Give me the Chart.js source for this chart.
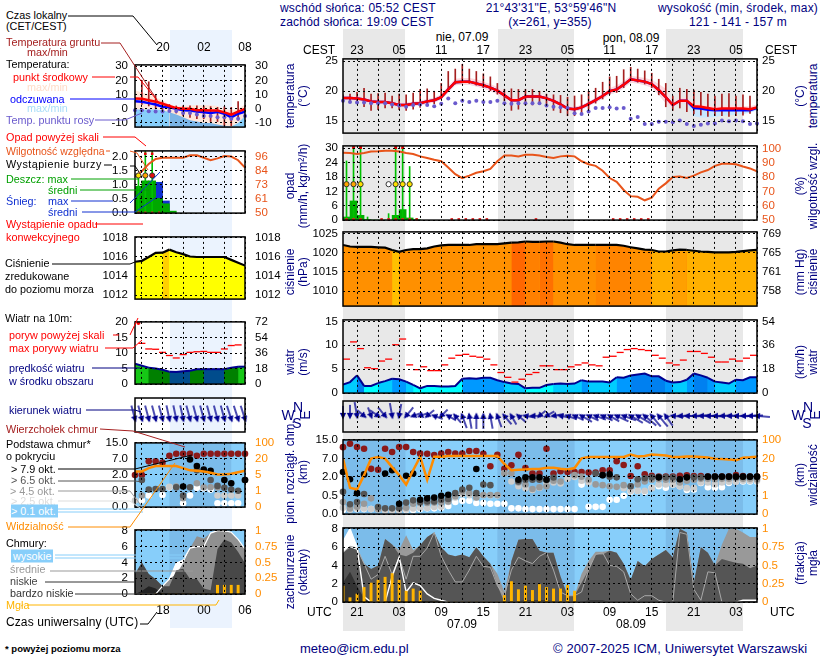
<!DOCTYPE html>
<html>
<head>
<meta charset="utf-8">
<style>
html,body{margin:0;padding:0;background:#fff;width:820px;height:660px;overflow:hidden}
#page{position:relative;width:820px;height:660px;overflow:hidden;font-family:"Liberation Sans",Arial,sans-serif;font-size:12px}
canvas{position:absolute}
.t{position:absolute;white-space:nowrap;line-height:13px}
.band{position:absolute}
svg{position:absolute;left:0;top:0}
</style>
<script src="https://cdn.jsdelivr.net/npm/chart.js@4"></script>
</head>
<body>
<div id="page"></div>
<script>
// ---- hourly data, main meteogram (0 = 19 UTC 06.09, 59 = 06 UTC 09.09)
var tempMain = [18.85,18.85,18.8,18.6,18.3,18.2,18.2,18,17.7,17.7,17.9,18,18.3,18.5,19,20.3,21.5,21.6,21.6,21.3,21,20.6,20.1,19.3,18.5,18.5,19.1,19.1,19.1,18.8,18.4,17.8,17.1,17,17.3,17.9,18.5,19.2,20,20.3,21.1,22,21.8,21.6,21.2,20.2,19,17.7,18.4,18.4,17.5,17.4,17.2,17,17.1,17.1,17.1,17.1,17,17.3];
var tempHi = [19.2,19.2,19.2,19,18.7,18.6,18.6,18.4,18.1,18.1,18.3,18.4,18.7,18.9,19.5,20.9,22.1,22.2,22.2,22,21.6,21.2,20.7,20,18.9,18.9,19.5,19.5,19.5,19.2,18.8,18.2,17.5,17.4,17.7,18.3,18.9,19.6,20.5,21,21.7,22.6,22.4,22.2,21.9,21.2,20.4,18.2,18.9,18.9,17.9,17.8,17.6,17.4,17.6,17.6,17.6,17.5,17.5,17.8];
var tempLo = [18.5,18.5,18.4,18.2,17.9,17.8,17.8,17.6,17.3,17.3,17.5,17.6,17.9,18.1,18.6,19.8,21,21.1,21.1,20.8,20.5,20,19.5,18.8,18.1,18.1,18.7,18.7,18.7,18.4,18,17.4,16.7,16.6,16.9,17.5,18.1,18.7,19.5,19.8,20.5,21.4,21.3,21,20.6,19.4,18,17.3,18,18,17,16.9,16.8,16.7,16.8,16.8,16.8,16.8,16.7,17];
var appTemp = [18.85,18.85,18.8,18.6,18.3,18.2,18.2,18,17.7,17.7,17.9,18,18.3,18.5,19,20.3,21.5,21.6,21.6,21.3,21,20.6,20.1,19.3,18.5,18.5,19.1,19.1,19.1,18.8,18.4,17.8,17.1,17,17.3,17.9,18.5,19.2,20,20.3,21.1,22,21.8,21.6,21.2,20.2,19,17.7,18.4,18.4,17.2,17.1,16.9,16.8,16.8,16.8,16.8,16.8,16.8,17.2];
var appLo = [18.5,18.5,18.4,18.2,17.9,17.8,17.8,17.6,17.3,17.3,17.5,17.6,17.9,18.1,18.6,19.8,21,21.1,21.1,20.8,20.5,20,19.5,18.8,18.1,18.1,18.7,18.7,18.7,18.4,18,17.4,16.7,16.6,16.9,17.5,18.1,18.7,19.5,19.8,20.5,21.4,21.3,21,20.6,19.4,18,17.3,18,18,15.8,15.6,15.6,15.7,15.9,16,16.1,16.2,16.4,16.8];
var groundHi = [19.4,19.5,19.8,20.5,19.5,19.6,19.7,19.2,19.5,19.4,19.7,20.3,20.4,20,21.3,23.3,23.7,24.5,23.7,23.3,22.9,22.4,21.3,20.3,20.4,20.3,20.3,20.3,20,19.5,19.4,19.3,19,19.2,19.4,20,20.5,21.5,22.4,22.5,23.6,24,23.7,23.4,23,22,21.3,19.2,20.5,20.3,20.2,19.8,19.5,19.2,19.5,19.6,19.2,19.4,19.2,17.6];
var groundLo = [18.3,18.2,18,17.4,16.8,16.9,17.2,17.2,16.9,16.8,17,17.3,17.6,17.9,18.7,20.2,21.2,21.4,21.3,21,20.6,20.1,19.5,18.4,16.8,17,17.7,17.7,17.8,17.4,16.8,16.4,15.9,15.9,16.4,17,18,18.7,19.5,19.8,20.6,21.8,21.5,21.2,20.6,19.4,17.4,16.8,17.2,16.6,16.2,16,15.8,15.9,15.9,15.8,15.9,16,16.3,17];
var dewMain = [18.4,18.2,18.1,18.1,18,18,18,17.8,17.6,17.4,17.7,17.8,17.7,17.5,17.9,18.8,18,18.4,18.2,18.4,18.2,18.2,18.4,18,17.9,18,18,18,18,17.6,17.4,17.3,17.2,16.3,16.2,16.6,17.2,17.2,17.3,17.1,17.2,15.4,15.7,14.5,14.5,14.9,14.9,14.8,15.1,14.5,14.2,14.4,14.6,14.6,15.1,15,15.1,15,14.5,14.6];

var humMain = [97,96.7,96,96.7,97.8,98,98.4,98.4,97.8,96.7,96,94.4,93.3,92,91,86.7,82,79.3,81,83,84,85.6,91,95,95,94.4,95.6,95.6,95,94,93.3,94.4,94.9,94.4,91,88.9,87.8,84.4,79.3,76.7,71,66.7,66.2,63.8,65.6,71.8,75.6,80,80.4,79.3,81,83.3,84.9,87.8,89.3,89.3,88.9,87.3,86,84];
var rainMeanMain = [1.3,8,2,0.2,0,0,0,2,4.4,0.9,0.1];
var rainMaxMain = [24.7,31,31,1.3,0,0,2.7,31,31,22.4,0.7];
var stormHours = [0,1,2,6,7,8,9];
var stormColors = ["#ffa500","#ffa500","#ffe000","#ffffff","#ffe000","#ffe000","#ffe000"];
var overScaleHours = [1,2,7,8];
var convectiveHours = [0,1,2,5,6,7,8,9,10,15,16,17,18,19,20,27,38,39,40,41,42,43];

var pressMain = [1022,1021.6,1021.5,1021.5,1021.5,1021.4,1021.3,1020.7,1020.2,1020.7,1020.9,1020.9,1021.1,1021.6,1021.9,1022,1022,1022,1022,1022.2,1022.2,1022.2,1022.2,1022.4,1022.6,1022.7,1022.9,1022.8,1022.8,1022.9,1022.9,1022.6,1022.2,1022,1022,1022,1022,1022,1022,1022,1021.8,1021.4,1021.1,1020.8,1020.7,1020.3,1020.3,1020.6,1020.8,1020.7,1020.5,1020.3,1020.2,1020.1,1020.1,1020.1,1020.2,1020.4,1020.6,1020.7];
var pressStrips = [[7,8,"#ffc000"],[24,26,"#ff6600"],[26,28,"#ff8000"],[28,30,"#ff7000"],[36,41,"#ff8400"],[44,47,"#ffae00"],[47,49,"#ffa000"],[49,59,"#ffb000"]];

var windMain = [1.8,2.3,3.7,1.5,1.5,2.1,2.5,3,2.9,2.4,1.7,1,1.5,1.5,1.4,1.4,1.5,3,3.1,3,3.2,3.2,2.7,2.3,2,1.9,1,1.1,1.1,1.7,1.9,2,1.9,2,2.7,2.4,2.4,2.4,2.2,3.3,3.2,3.7,3.9,4.1,3.5,3.5,2.6,2.2,2.3,2.8,4.1,3.7,3.2,2.4,2.2,2,2.8,2.7,3.3,3.3];
var gustMain = [7.1,10.7,9.3,5.3,5.1,6.7,7.1,10.1,11.3,5.9,4.9,5.5,4.7,4.7,5.9,7.3,7.9,8.1,7.7,7.5,7.1,5.9,4.3,3.3,2.3,2.9,3.9,4.3,5.7,5.7,4.9,4.9,5.5,5.9,6.3,5.9,5.7,7.5,7.7,8.5,9.1,9.3,9.1,8.9,7.9,7.3,6.3,5.9,6.9,8.7,8.7,8.3,7.5,6.5,6.5,7.1,6.7,7.3,7.9];
var windDirMain = [180,180,170,130,160,125,140,170,190,220,250,250,230,290,225,300,320,340,350,0,0,350,340,320,330,310,280,270,230,240,260,280,290,295,300,295,290,295,300,295,290,300,300,310,320,320,325,275,270,272,268,270,272,270,268,270,272,270,268,275];

// vertical position on the 0/0.5/2/7/15 km axis (tick number 0..4)
var cloudTop = [3.61,3.79,3.62,3.52,2.44,2.39,3.52,3.35,3.62,3.62,3.35,3.26,3.25,3.18,3.26,3.35,3.26,3.26,3.4,3.4,3.25,2.58,3.2,2.44,2.63,3.2,2.48,2.19,2.19,3.52,2.19,2.31,2.27,2.27,2.27,2.24,2.24,2.36,2.36,2.85,2.65,2.05,2.58,2.15,2.07,2.02,2.02,2.02,2.07,2.09,2.05,2.05,2.02,2.02,2.02,2.02,2.1,2.05,2.02,2.02];
var cloud79 = [2.27,1.88,1.13,2.14,null,null,2.19,2.36,0.56,2.07,2.19,0.77,0.85,0.89,0.99,1.04,null,null,null,2.43,null,null,null,null,null,1.85,1.98,1.98,1.98,1.85,null,null,null,null,null,null,null,2.1,2.15,null,null,null,null,null,null,1.98,null,null,1.88,1.98,null,null,2.02,2.02,2.02,2.02,2.02,2.02,2.02,2.02];
var cloud65 = [1.2,0.53,0.65,1.08,null,0.38,0.31,0.31,0.31,0.62,0.74,0.65,0.68,0.68,0.77,0.82,1.13,1.33,1.42,1.13,1.59,1.56,null,null,null,1.76,1.85,1.85,1.85,1.85,1.97,null,null,null,null,null,2.19,2.1,2.02,1.98,null,1.5,1.88,1.93,1.98,1.98,1.98,1.98,1.88,1.98,1.98,1.98,2,2,2,2,2,2,2,2];
var cloud45 = [0.65,0.3,0.39,0.56,0.85,0.27,null,null,null,0.34,0.56,0.6,0.6,0.62,0.62,0.68,0.96,1.2,1.13,0.9,1.03,1.03,1.03,2.2,2.2,1.7,1.6,1.35,1.45,1.5,1.8,1.76,null,2.1,2.02,1.85,1.6,1.56,1.5,1.47,1.56,1.5,1.6,1.76,1.85,1.88,1.85,1.85,1.7,1.8,1.85,1.9,1.9,1.88,1.9,1.9,1.93,1.9,1.9,1.88];
var cloud25 = [0.34,0.24,0.3,0.3,0.27,0.25,0.2,0.2,0.2,0.25,0.3,0.33,0.33,0.38,0.4,0.65,0.9,1.07,1.02,0.9,1.02,1,1,2.2,1.76,1.5,1.4,1.3,1.42,1.68,1.7,1.65,1.9,2,1.8,1.7,null,null,null,null,1.4,1.25,1.25,1.25,1.4,1.6,1.6,1.6,1.5,1.4,1.4,1.7,1.7,1.6,1.7,1.75,1.75,1.8,1.8,1.8];
var cloud01 = [0.22,0.27,0.27,0.27,0.27,null,null,null,null,0.22,0.22,0.27,0.31,0.31,0.34,0.44,0.65,0.72,0.72,0.6,0.6,0.56,0.56,0.56,0.31,0.31,0.27,0.27,0.27,0.27,0.27,0.27,0.27,0.27,1.59,0.39,0.39,0.39,0.77,0.77,0.99,1.21,1.25,1.2,1.42,1.5,1.42,1.59,1.5,1.3,1.33,1.68,1.45,1.42,1.45,1.68,1.76,1.76,1.76,1.76];
var visMain = [2.99,1.42,1.33,2.1,2.99,3.08,2.99,2.53,2.1,1.59,2.36,3.09,1.85,3.09,3.09,3.13,3.13,3.13,3.13,3.13,3.13,3.13,3.13,2.7,2.36,2.39,2.41,2.43,2.43,2.5,2.5,2.44,2.41,2.48,3.01,3.08,3.08,3.08,3.08,3.08,3.08,3.21,3.11,3.13,3.21,3.19,3.16,3.08,3.08,3.1,3.11,3.08,3.05,2.99,2.97,2.95,2.91,3.04,3.06,3.09];

var veryLowMain = [2.1,3.3,1.76,0.4,0,0,0,0,0,0,0,0,0,0,0,0,0,0,0,0,0,0,0,0,0,0.1,0.2,0.2,0.2,0.2,0.1,0,0,0,0,0.2,0.2,0.2,0,0,0,0,0,0,0,0,0,0,0,0,0,0,0,0,0,0,0,0,0,0];
var lowMain = [5.4,6,5.7,4.2,3.6,4,6.9,6.3,5.2,5,5.4,6.2,7.1,7.6,6,5.2,5,5.2,4.9,6,5,4.2,1.8,0,4.5,6.8,6.9,6.9,5.6,5.4,5.4,2.8,0.7,0.7,2.1,3.5,5.2,5.2,5.6,5.4,4.2,2.4,4.5,3.9,4.7,5.2,5.7,4.9,8,7.6,2.1,6,5.4,4,4.7,4.5,4.3,4.2,3.7,4];
var midFillMain = [5.4,6,5.7,4.2,3.6,4,6.9,6.3,5.7,7.3,5.7,6.2,7.1,7.6,6,5.2,5,5.2,4.9,6,5,4.2,3.1,1.1,4.5,6.8,6.9,6.9,5.6,5.4,5.4,2.8,0.7,0.7,3.1,4.5,5.5,5.5,5.6,5.4,4.2,2.4,4.5,3.9,4.7,5.2,5.7,4.9,8,7.6,2.1,6,5.4,4,6.3,8,8,7.6,7.1,7.1];
var midLineMain = [5.4,6.1,5.9,4.2,2.5,3,5,3,4.9,2.5,5,5,5.9,7.6,5,3.5,2.2,2.2,3.5,5,3.9,3.8,1.8,0.7,3.5,4.9,4.5,4.2,5,5.4,3.5,1.1,0.7,0.7,1.1,3.5,5.2,5.4,4,3.9,3.3,0.9,0.2,0.7,0.7,0.2,0,0,7.6,7.4,1.4,0.2,3.3,3.2,0,0,0,0,0,0];
var highMain = [6.6,8,6,0.6,0,0,0,2.8,4.9,1.1,2.1,1.8,0.9,0.4,0.2,0,0,0,0,0,0,0,0,0,0,0,0,0,0,0,0,0,0,0,0,0,0,0,0,0,0,0,0,0,0,0,0,0,0,0,0,0,0,0,0,0,0,0.2,0.2,0.2];
var fogMain = [0.22,0.06,0.11,0.2,0.26,0.3,0.34,0.39,0.3,0.15,0.18,0.15,0,0,0,0,0,0,0,0,0,0,0,0.09,0.28,0.17,0.22,0.16,0.24,0.2,0.18,0.18,0.23,0.15];

// ---- small panels on the left (0 = 14 UTC, 16 = 06 UTC)
var tempLeft = [7.3,7,6,5,3.5,2,0.5,0,0,-1,-1,-1.2,-1.2,-2.5,-4.2,-2,0];
var appLeft = [5.3,5,4,3,1.5,1,0,-1,-1.3,-2,-2.5,-3,-2.2,-3.5,-6,-3.5,-2];
var bandTopLeft = [13,11.5,10,8,6,3,2,2,2.5,2.5,2.5,2.5,2,0,-1,0,3];
var bandMidLeft = [-0.5,-0.5,-0.5,-0.5,-1,-2.5,-4,-6,-8,-9,-10,-10,-11,-12,-12.5,-10,-5];
var groundHiLeft = [8,20,19,10,5,3,2,2,2,2,2,1.5,1,1.5,1,5,2];
var groundLoLeft = [5,3,2,0,-1,-2,-3,-5,-6,-7,-7,-9,-9,-12,-12,-8,-3];
var dewLeft = [-1,-1,-1.8,-2,-2,-1.5,-1.5,-3,-3,-4,-5,-5,-6,-6,-7,-7,-5];

var humLeft = [80,84,90,94,95,95,95,95,97,97,95,93,94.5,96.4,96,93,87];
var rainMeanLeft = [0.95,1.14,1.14,0.52,0.33,0.07];
var snowMeanLeft = [0,0,0,1.09,0.43,0];
var rainMaxLeft = [1.3,2.3,2.3];
var stormColorsLeft = ["#ffe000","#ffa500","#e01010"];
var convectiveLeft = [0,1,2,3];

var pressLeft = [1015.5,1015.6,1016,1016.43,1016.45,1016.77,1016.5,1016.3,1016.05,1016,1016,1016,1016,1016,1015.7,1015.4,1015.1];

var windLeft = [6.55,5.9,5.3,5,4.6,4,3.9,4.1,4.3,4.8,4.8,4.8,4.8,4.8,5.3,5.6,5.6];
var gustLeft = [13.1,11.3,11.2,10.2,9.2,8.4,9.5,10.2,10.4,10.5,10.2,10.2,11.3,12.4,12.6];
var windColorsLeft = ["#16c716","#16c716","#008000","#008000","#008000","#004c8c","#004c8c","#004c8c","#008000","#008000","#004c8c","#004c8c","#004c8c","#008000","#008000","#16c716","#16c716"];
var windDirLeft = [165,165,165,165,165,168,168,168,165,165,165,165,165,165,162,162,162];

var cloudTopLeft = [2,2,2.85,2.85,2.77,3.2,3.32,3.32,3.32,3.2,3.32,3.32,3.32,3.32,3.32,3.32,3.32];
var cloud79Left = [null,null,null,null,null,null,null,1.28,2.97,2.56,2.34,2.26,null,1.69,1.49,null,1.69];
var cloud65Left = [null,1.69,1.09,1.13,1.13,null,1.23,0.72,1.23,2.29,null,1.69,1.32,1.2,1.09,1.02,1.69];
var cloud45Left = [null,0.72,null,null,null,null,1.28,0.55,null,1.49,1.23,1.23,1.23,null,null,null,null];
var cloud25Left = [0.41,null,null,null,null,1.26,1.26,null,null,null,null,null,0.72,0.72,0.72,0.72,null];
var cloud01Left = [null,0.41,0.72,null,0.75,1.23,null,0.24,0.72,1.2,1.18,1.09,0.24,0.24,0.24,0.24,null];
var visLeft = [2.22,2.22,2.43,2.56,2.56,2.56,2.56,2.43,2.29,2.26,2.22,2.14,2.03,2.03,2.08,2.17,2.26];

var veryLowLeft = [0,0.4,1,0.7,0,0,0,0,0,0,0,0,0,0,0,0,0];
var lowLeft = [2.55,4,2.55,1.86,1,1,3,3.2,1.9,1.9,0.7,0.5,5.7,6.9,6.5,5.3,3.9];
var midFillLeft = [2.55,4,2.55,1.86,1,1.9,2.55,3.9,5.8,7.3,7,7.7,8,7.9,7.8,6.9,5.7];
var highLeft = [0,0,0,0,1,1.9,3.9,4.3,5.8,6,6,7.7,8,8,7.8,6.9,5.7];
var fogLeft = [0,0,0,0,0,0,0,0,0,0,0,0,0.14,0.14,0.14,0.14];

// ---- ticks
var tickHoursMain = [2,5,8,11,14,17,20,23,26,29,32,35,38,41,44,47,50,53,56,59];
var tickHoursLeft = [1,4,7,10,13,16];
var cloudAxisKm = ["0.0","0.5","2.0","7.0","15.0"];
var visAxisKm = ["0","1","5","20","100"];
var nightMain = [[0,8.9],[22,33],[46,57]];
var nightLeft = [[5,14]];

var DASH = [2,3];
var page = document.getElementById("page");

function xy(vals, off) {
  return vals.map(function (v, i) { return { x: i + (off || 0), y: v }; });
}
function pick(hours, y, off) {
  return hours.map(function (h) { return { x: h + (off || 0), y: y }; });
}
function lineDs(vals, color, w, extra) {
  return Object.assign({ type: "line", data: xy(vals), borderColor: color, borderWidth: w, pointRadius: 0, tension: 0 }, extra);
}
function dots(vals, color, r) {
  return { type: "line", data: xy(vals), showLine: false, pointRadius: r || 3.3, pointBackgroundColor: color, pointBorderWidth: 0, clip: false };
}
function area(vals, color, extra) {
  return Object.assign({ type: "line", data: xy(vals), borderWidth: 0, pointRadius: 0, tension: 0, fill: "start", backgroundColor: color }, extra);
}
function bars(data, color, w, extra) {
  return Object.assign({ type: "bar", data: data, backgroundColor: color, barThickness: w, grouped: false, borderWidth: 0 }, extra);
}

// frame and the panel background
function framePlugin(cfg) {
  return {
    id: "frame",
    beforeDatasetsDraw: function (chart) {
      if (!cfg.sky) return;
      var a = chart.chartArea, c = chart.ctx, sx = chart.scales.x;
      c.save();
      c.fillStyle = cfg.sky[0];
      c.fillRect(a.left, a.top, a.width, a.height);
      c.fillStyle = cfg.sky[1];
      cfg.night.forEach(function (n) {
        var l = sx.getPixelForValue(n[0]), r = sx.getPixelForValue(n[1]);
        c.fillRect(l, a.top, r - l, a.height);
      });
      c.restore();
    },
    afterDraw: function (chart) {
      var a = chart.chartArea, c = chart.ctx;
      c.save();
      c.strokeStyle = "#000";
      c.lineWidth = 1.5;
      c.strokeRect(a.left, a.top, a.width, a.height);
      c.restore();
    }
  };
}

function panel(cfg) {
  var b = cfg.box, pad = cfg.pad || 38;
  var cv = document.createElement("canvas");
  cv.width = b[2] + pad * 2;
  cv.height = b[3] + 20;
  cv.style.left = (b[0] - pad) + "px";
  cv.style.top = (b[1] - 10) + "px";
  page.appendChild(cv);
  var font = { family: "'Liberation Sans', Arial, sans-serif", size: 11.5 };
  new Chart(cv, {
    type: "line",
    data: { datasets: cfg.datasets },
    plugins: [framePlugin(cfg)],
    options: {
      responsive: false,
      animation: false,
      devicePixelRatio: 1,
      layout: { padding: { top: 10, bottom: 10, left: 0, right: 0 } },
      plugins: { legend: { display: false }, tooltip: { enabled: false } },
      scales: {
        x: {
          type: "linear", min: 0, max: cfg.xMax, offset: false,
          afterBuildTicks: function (s) { s.ticks = cfg.xTicks.map(function (v) { return { value: v }; }); },
          afterFit: function (s) { s.height = 0; },
          ticks: { display: false },
          grid: { color: "#000", lineWidth: 1, drawTicks: false, z: 1, offset: false },
          border: { dash: DASH, display: false }
        },
        y: {
          type: "linear", position: "left", min: cfg.yMin, max: cfg.yMax,
          afterBuildTicks: function (s) { s.ticks = cfg.lt.map(function (v) { return { value: v }; }); },
          afterFit: function (s) { s.width = pad; },
          ticks: {
            autoSkip: false, font: font, color: "#000", padding: cfg.ltPad || 5,
            callback: cfg.ltFmt || function (v) { return v; }
          },
          grid: { color: "#000", lineWidth: 1, drawTicks: false, z: 1 },
          border: { dash: DASH, display: false }
        },
        y2: {
          type: "linear", position: "right", min: cfg.rMin, max: cfg.rMax,
          afterBuildTicks: function (s) { s.ticks = cfg.rt.map(function (v) { return { value: v }; }); },
          afterFit: function (s) { s.width = pad; },
          ticks: {
            autoSkip: false, font: font, color: cfg.rColor || "#000", padding: cfg.rtPad || 5,
            callback: cfg.rtFmt || function (v) { return v; }
          },
          grid: { display: false, drawTicks: false },
          border: { display: false }
        }
      }
    }
  });
}

// arrow picture, head in the middle, pointing up, tail below
var arrowCache = {};
function arrowIcon(len) {
  len = Math.round(len);
  if (arrowCache[len]) return arrowCache[len];
  var c = document.createElement("canvas"), s = len * 2 + 8;
  c.width = s; c.height = s;
  var g = c.getContext("2d"), m = s / 2;
  g.strokeStyle = "#000090";
  g.fillStyle = "#000090";
  g.lineWidth = 1.4;
  g.beginPath(); g.moveTo(m, m); g.lineTo(m, m + len); g.stroke();
  g.beginPath(); g.moveTo(m, m - 3.5); g.lineTo(m - 3.2, m + 3); g.lineTo(m + 3.2, m + 3); g.closePath(); g.fill();
  arrowCache[len] = c;
  return c;
}
function windRow(dirs, speeds, row, fixedLen) {
  return {
    type: "line", showLine: false, clip: false,
    data: dirs.map(function (d, i) { return { x: i, y: row }; }),
    pointRadius: 6,
    pointStyle: dirs.map(function (d, i) { return arrowIcon(fixedLen || 5 + speeds[i] * 2.5); }),
    pointRotation: dirs
  };
}
function pressColor(ctx) {
  var i = ctx.p0DataIndex, col = "#ff9000";
  pressStrips.forEach(function (s) { if (i >= s[0] && i < s[1]) col = s[2]; });
  return col;
}
function windColor(ctx) {
  var v = windMain[ctx.p0DataIndex];
  if (v < 1.8) return "#00ffff";
  if (v < 2.6) return "#00ccff";
  if (v < 3.4) return "#0099ff";
  return "#0080f0";
}
function nightTint(ctx) {
  var i = ctx.p0DataIndex;
  return i >= 5 && i < 14 ? "#7ab4e6" : "#87cefa";
}
function round(v) { return Math.round(v); }
function floor(v) { return Math.floor(v); }
function cloudLeftFmt(v) { return cloudAxisKm[v]; }
function visFmt(v) { return visAxisKm[v]; }
function fixed1(v) { return v.toFixed(1); }

var SKY = ["#87cefa", "#7bbcea"];
var RED = "#ff0000", BLUE = "#0000ff", HUM = "#e8541a", ORANGE = "#ff8c00", DEW = "#6a5acd", GROUND = "#a52020", FOG = "#ffb400";

function mainBox(y, h) { return [343, y, 414, h]; }
function leftBox(y, h) { return [135, y, 110, h]; }
var mainX = { xMax: 59, xTicks: tickHoursMain };
var leftX = { xMax: 16, xTicks: tickHoursLeft, pad: 45, ltPad: 7, rtPad: 10 };

// ---- temperature
panel(Object.assign({
  box: mainBox(57, 78), yMin: 13, yMax: 25.4, lt: [15, 20, 25], rMin: 13, rMax: 25.4, rt: [15, 20, 25],
  datasets: [
    dots(dewMain, DEW, 2),
    lineDs(tempMain, RED, 2.5),
    lineDs(appTemp, BLUE, 2.5),
    bars(groundHi.map(function (v, i) { return { x: i, y: [groundLo[i], v] }; }), GROUND, 1),
    lineDs(tempHi, "rgba(0,0,0,0)", 0, { fill: "+1", backgroundColor: "#ffd8de" }),
    lineDs(tempLo, "rgba(0,0,0,0)", 0),
    lineDs(appTemp, "rgba(0,0,0,0)", 0, { fill: "+1", backgroundColor: "#c8e8ff" }),
    lineDs(appLo, "rgba(0,0,0,0)", 0)
  ]
}, mainX));
panel(Object.assign({
  box: leftBox(58, 76), yMin: -12.9, yMax: 30.9, lt: [-10, 0, 10, 20, 30], rMin: -12.9, rMax: 30.9, rt: [-10, 0, 10, 20, 30],
  datasets: [
    dots(dewLeft, DEW, 2),
    lineDs(tempLeft, RED, 2.5),
    lineDs(appLeft, BLUE, 2.5),
    bars(groundHiLeft.map(function (v, i) { return { x: i, y: [groundLoLeft[i], v] }; }), GROUND, 1),
    area(bandMidLeft, "#87cefa", { segment: { backgroundColor: nightTint } }),
    lineDs(bandTopLeft, "rgba(0,0,0,0)", 0, { fill: "start", backgroundColor: "#ffe6da" })
  ]
}, leftX));

// ---- precipitation and humidity
panel(Object.assign({
  box: mainBox(144, 78), yMin: 0, yMax: 31, lt: [0, 6, 12, 18, 24, 30], rMin: 50, rMax: 101.7, rt: [50, 60, 70, 80, 90, 100], rColor: HUM,
  datasets: [
    { type: "line", data: pick(overScaleHours, 30.3, 0.5), showLine: false, pointStyle: "rect", pointRadius: 2, pointBackgroundColor: "#e00000", pointBorderWidth: 0, clip: false },
    { type: "line", data: pick(stormHours, 15, 0.5), showLine: false, pointRadius: 2.6, pointBackgroundColor: stormColors, pointBorderColor: "#333", pointBorderWidth: 1 },
    { type: "line", data: pick(convectiveHours, 0.3, 0.5), showLine: false, pointStyle: "rect", pointRadius: 1.8, pointBackgroundColor: "#e02020", pointBorderWidth: 0, clip: false },
    lineDs(humMain, HUM, 2, { yAxisID: "y2" }),
    bars(xy(rainMaxMain, 0.5), "#00c000", 1),
    bars(xy(rainMeanMain, 0.5), "#00b000", 7)
  ]
}, mainX));
panel(Object.assign({
  box: leftBox(144, 76), yMin: 0, yMax: 2.2, lt: [0, 0.5, 1, 1.5, 2], ltFmt: fixed1, rMin: 50, rMax: 100.6, rt: [50, 61.5, 73, 84.5, 96], rtFmt: floor, rColor: HUM,
  datasets: [
    { type: "line", data: pick([1, 2], 2.1, 0.5), showLine: false, pointStyle: "rect", pointRadius: 1.8, pointBackgroundColor: "#e00000", pointBorderWidth: 0 },
    { type: "line", data: pick([0, 1, 2], 1.33, 0.5), showLine: false, pointRadius: 2.6, pointBackgroundColor: stormColorsLeft, pointBorderColor: "#333", pointBorderWidth: 1 },
    { type: "line", data: pick(convectiveLeft, 0.02, 0.5), showLine: false, pointStyle: "rect", pointRadius: 1.5, pointBackgroundColor: "#e02020", pointBorderWidth: 0, clip: false },
    lineDs(humLeft, HUM, 2, { yAxisID: "y2" }),
    bars(xy(rainMaxLeft, 0.5), "#00c000", 1),
    bars(xy(rainMeanLeft, 0.5), "#00a800", 7),
    bars(xy(snowMeanLeft, 0.5), "#1030d0", 7)
  ]
}, leftX));

// ---- pressure
panel(Object.assign({
  box: mainBox(230, 78), yMin: 1006.1, yMax: 1025.4, lt: [1010, 1015, 1020, 1025],
  rMin: 1006.1 * 0.75006, rMax: 1025.4 * 0.75006, rt: [757.6, 761.3, 765, 768.8], rtFmt: round,
  datasets: [
    lineDs(pressMain, "#000", 2.2, { fill: "start", backgroundColor: "#ff9000", segment: { backgroundColor: pressColor } }),
    area(pressMain, "#ff9000")
  ]
}, mainX));
panel(Object.assign({
  box: leftBox(230, 76), yMin: 1011.6, yMax: 1018.1, lt: [1012, 1014, 1016, 1018], rMin: 1011.6, rMax: 1018.1, rt: [1012, 1014, 1016, 1018],
  datasets: [
    lineDs(pressLeft, "#000", 2.2, { fill: "start", backgroundColor: "#ffff00", segment: { backgroundColor: function (c) { return c.p0DataIndex == 4 ? "#ffd000" : "#ffff00"; } } }),
    area(pressLeft, "#ffff00")
  ]
}, leftX));

// ---- wind
panel(Object.assign({
  box: mainBox(318, 77), yMin: 0, yMax: 15.3, lt: [0, 5, 10, 15], rMin: 0, rMax: 55.08, rt: [0, 18, 36, 54],
  datasets: [
    { type: "line", data: xy(gustMain, 0.5), showLine: false, pointStyle: "line", pointRadius: 3.5, pointBorderColor: RED, pointBorderWidth: 1.3 },
    lineDs(windMain, "#000090", 2, { fill: "start", backgroundColor: "#00ccff", segment: { backgroundColor: windColor } }),
    area(windMain, "#00ccff")
  ]
}, mainX));
panel(Object.assign({
  box: leftBox(315, 76), yMin: 0, yMax: 20, lt: [0, 5, 10, 15, 20], rMin: 0, rMax: 72, rt: [0, 18, 36, 54, 72],
  datasets: [
    { type: "line", data: xy(gustLeft, 1), showLine: false, pointStyle: "line", pointRadius: 3.5, pointBorderColor: RED, pointBorderWidth: 1.3 },
    { type: "line", data: pick([0], 19.6, 0.5), showLine: false, pointRadius: 1.8, pointBackgroundColor: RED, pointBorderWidth: 0 },
    lineDs(windLeft, "#000090", 2, { fill: "start", backgroundColor: "#008000", segment: { backgroundColor: function (c) { return windColorsLeft[c.p0DataIndex]; } } }),
    area(windLeft, "#008000")
  ]
}, leftX));

// ---- wind direction
panel(Object.assign({
  box: mainBox(401, 31), yMin: 0, yMax: 1, lt: [], rMin: 0, rMax: 1, rt: [],
  datasets: [windRow(windDirMain, windMain, 0.52)]
}, mainX));
panel(Object.assign({
  box: leftBox(398, 34), yMin: 0, yMax: 1, lt: [], rMin: 0, rMax: 1, rt: [],
  datasets: [windRow(windDirLeft, windLeft, 0.38, 14)]
}, leftX));

// ---- cloud base, top and visibility
panel(Object.assign({
  box: mainBox(438, 78), sky: SKY, night: nightMain, yMin: 0, yMax: 4, lt: [0, 1, 2, 3, 4], ltFmt: cloudLeftFmt, rMin: 0, rMax: 4, rt: [0, 1, 2, 3, 4], rtFmt: visFmt, rColor: ORANGE,
  datasets: [
    lineDs(visMain, ORANGE, 2.5),
    dots(cloud79, "#000"), dots(cloud65, "#555"), dots(cloud45, "#999"), dots(cloud25, "#ccc"), dots(cloud01, "#fff"),
    dots(cloudTop, "#8b1a1a")
  ]
}, mainX));
panel(Object.assign({
  box: leftBox(436, 78), sky: SKY, night: nightLeft, yMin: 0, yMax: 4, lt: [0, 1, 2, 3, 4], ltFmt: cloudLeftFmt, rMin: 0, rMax: 4, rt: [0, 1, 2, 3, 4], rtFmt: visFmt, rColor: ORANGE,
  datasets: [
    lineDs(visLeft, ORANGE, 2.5),
    dots(cloud79Left, "#000"), dots(cloud65Left, "#555"), dots(cloud45Left, "#999"), dots(cloud25Left, "#ccc"), dots(cloud01Left, "#fff"),
    dots(cloudTopLeft, "#8b1a1a")
  ]
}, leftX));

// ---- cloud cover and fog
panel(Object.assign({
  box: mainBox(526, 78), sky: SKY, night: nightMain, yMin: 0, yMax: 8.1, lt: [0, 2, 4, 6, 8], rMin: 0, rMax: 1.0125, rt: [0, 0.25, 0.5, 0.75, 1], rColor: ORANGE,
  datasets: [
    bars(xy(fogMain), FOG, 2.3, { yAxisID: "y2" }),
    lineDs(highMain, "#fff", 1.4),
    lineDs(midLineMain, "#a8a8a8", 1),
    area(veryLowMain, "#333"),
    area(lowMain, "#555"),
    area(midFillMain, "#999"),
    area(highMain, "#fff")
  ]
}, mainX));
panel(Object.assign({
  box: leftBox(523, 78), sky: SKY, night: nightLeft, yMin: 0, yMax: 8.1, lt: [0, 2, 4, 6, 8], rMin: 0, rMax: 1.0125, rt: [0, 0.25, 0.5, 0.75, 1], rColor: ORANGE,
  datasets: [
    bars(xy(fogLeft), FOG, 2.3, { yAxisID: "y2" }),
    lineDs(highLeft, "#fff", 1.2),
    area(veryLowLeft, "#222"),
    area(lowLeft, "#484848"),
    area(midFillLeft, "#909090"),
    area(highLeft, "#fff")
  ]
}, leftX));

// ---- day/night columns behind the canvases
function band(x, y, w, h, col) {
  var d = document.createElement("div");
  d.className = "band";
  d.style.cssText = "left:" + x + "px;top:" + y + "px;width:" + w + "px;height:" + h + "px;background:" + col;
  page.insertBefore(d, page.firstChild);
}
band(170, 30, 62, 598, "#ebf3fe");
band(343, 29, 62, 602, "#e8e8e8");
band(498, 29, 76, 602, "#e8e8e8");
band(666, 29, 77, 602, "#e8e8e8");

// ---- text
function txt(s, x, y, col, o) {
  o = o || {};
  var d = document.createElement("div");
  d.className = "t";
  d.textContent = s;
  var tr = "translateY(-50%)";
  if (o.c) tr = "translate(-50%,-50%)";
  if (o.rot) tr = "translate(-50%,-50%) rotate(-90deg)";
  d.style.cssText = "left:" + x + "px;top:" + y + "px;color:" + (col || "#000") + ";transform:" + tr + ";" + (o.css || "");
  page.appendChild(d);
}
// legend text is a bit narrower than the rest
function leg(s, x, y, col, css) {
  txt(s, x, y, col, { css: "font-size:10.8px;" + (css || "") });
}
var NAVY = "#000080";
var SP = "letter-spacing:0.2px;";

// header
txt("wschód słońca: 05:52 CEST", 280, 8, NAVY, { css: SP });
txt("zachód słońca: 19:09 CEST", 280, 22, NAVY, { css: SP });
txt("21°43'31\"E, 53°59'46\"N", 551, 8, NAVY, { c: 1, css: SP });
txt("(x=261,  y=355)", 550, 22, NAVY, { c: 1, css: SP });
txt("wysokość (min, środek, max)", 738, 8, NAVY, { c: 1, css: SP });
txt("121 - 141 - 157 m", 738, 22, NAVY, { c: 1, css: SP });
txt("nie, 07.09", 462, 37, "#000", { c: 1 });
txt("pon, 08.09", 631, 38, "#000", { c: 1 });
txt("CEST", 303, 50, "#000");
txt("CEST", 765, 50, "#000");
txt("UTC", 307, 612, "#000");
txt("UTC", 770, 612, "#000");
["23","05","11","17","23","05","11","17","23","05"].forEach(function (s, i) {
  txt(s, 357 + i * 42.1, 50, "#000", { c: 1 });
});
["21","03","09","15","21","03","09","15","21","03"].forEach(function (s, i) {
  txt(s, 357 + i * 42.1, 612, "#000", { c: 1 });
});
txt("07.09", 462, 624, "#000", { c: 1 });
txt("08.09", 631, 624, "#000", { c: 1 });
["20","02","08"].forEach(function (s, i) { txt(s, 163 + i * 41, 47, "#000", { c: 1 }); });
["18","00","06"].forEach(function (s, i) { txt(s, 163 + i * 41, 610, "#000", { c: 1 }); });

// vertical titles
[["temperatura", "(°C)", 96], ["opad", "(mm/h, kg/m²/h)", 186], ["ciśnienie", "(hPa)", 272], ["wiatr", "(m/s)", 362],
 ["pion. rozciągł. chm.", "(km)", 472], ["zachmurzenie", "(oktanty)", 572]].forEach(function (r) {
  txt(r[0], 290, r[2], NAVY, { rot: 1 });
  txt(r[1], 303, r[2], NAVY, { rot: 1 });
});
[["temperatura", "(°C)", 96], ["wilgotność wzgl.", "(%)", 186], ["ciśnienie", "(mm Hg)", 272], ["wiatr", "(km/h)", 362],
 ["widzialność", "(km)", 475], ["mgła", "(frakcja)", 563]].forEach(function (r) {
  txt(r[0], 813, r[2], NAVY, { rot: 1 });
  txt(r[1], 800, r[2], NAVY, { rot: 1 });
});
// wind rose letters
[[288, 415], [798, 415]].forEach(function (p) {
  var big = "font-size:14px;";
  txt("W", p[0], p[1], NAVY, { c: 1, css: big });
  txt("N", p[0] + 10, p[1] - 8, NAVY, { c: 1, css: big });
  txt("S", p[0] + 9, p[1] + 8, NAVY, { c: 1, css: big });
  txt("E", p[0] + 17, p[1], NAVY, { rot: 1, css: big });
});

// legend on the left
leg("Czas lokalny", 6, 15);
leg("(CET/CEST)", 6, 26);
leg("Temperatura gruntu", 6, 42, GROUND);
leg("max/min", 27, 52, GROUND);
leg("Temperatura:", 6, 64);
leg("punkt środkowy", 13, 77, RED);
leg("max/min", 27, 87, "#ffdcc8");
leg("odczuwana", 10, 99, BLUE);
leg("max/min", 27, 108, "#a8ddf8");
leg("Temp. punktu rosy", 6, 120, DEW);
leg("Opad powyżej skali", 6, 137, RED);
leg("Wilgotność względna", 6, 151, HUM, "font-size:10.5px;");
leg("Wystąpienie burzy", 6, 164, "#000", "letter-spacing:0.45px;");
leg("Deszcz: max", 6, 179, "#00a000");
leg("średni", 48, 190, "#00a000");
leg("Śnieg:", 6, 201, "#1030d0");
leg("max", 48, 201, "#1030d0");
leg("średni", 48, 212, "#1030d0");
leg("Wystąpienie opadu", 6, 224, RED);
leg("konwekcyjnego", 6, 237, RED);
leg("Ciśnienie", 5, 263);
leg("zredukowane", 5, 276);
leg("do poziomu morza", 5, 289);
leg("Wiatr na 10m:", 5, 318);
leg("poryw powyżej skali", 9, 335, RED);
leg("max porywy wiatru", 9, 348, RED);
leg("prędkość wiatru", 9, 368, NAVY);
leg("w środku obszaru", 9, 381, NAVY);
leg("kierunek wiatru", 9, 410, NAVY);
leg("Wierzchołek chmur", 6, 429, GROUND);
leg("Podstawa chmur*", 6, 444);
leg("o pokryciu", 6, 456);
leg("> 7.9 okt.", 11, 469);
leg("> 6.5 okt.", 11, 480, "#555");
leg("> 4.5 okt.", 10, 491, "#999");
leg("> 2.5 okt.", 11, 501, "#ddd");
leg("> 0.1 okt.", 11, 511, "#fff", "background:#87cefa;padding-right:2px;");
leg("Widzialność", 6, 526, ORANGE);
leg("Chmury:", 6, 543);
leg("wysokie", 11, 556, "#fff", "background:#87cefa;padding:0 2px;");
leg("średnie", 10, 569, "#999");
leg("niskie", 10, 581, "#444");
leg("bardzo niskie", 10, 593, "#333");
leg("Mgła", 6, 605, FOG);
txt("Czas uniwersalny (UTC)", 6, 622, "#000", { css: "letter-spacing:0.1px;" });
txt("* powyżej poziomu morza", 5, 648, "#000", { css: "font-size:9.5px;font-weight:bold;" });
txt("meteo@icm.edu.pl", 300, 648, NAVY, { css: "font-size:13px;" });
txt("© 2007-2025 ICM, Uniwersytet Warszawski", 553, 648, NAVY, { css: "font-size:13px;letter-spacing:0.1px;" });

// leader lines from the legend to the panels
var leaders = [
  ["#000", "68,16 133,16 157,45"],
  [GROUND, "101,43 120,43 157,100"],
  [RED, "92,77 115,77"],
  [RED, "130,77 138,77 160,104"],
  [BLUE, "70,99 135,99"],
  [DEW, "95,120 125,120 142,113"],
  [RED, "103,137 135,137 146,146"],
  [HUM, "106,151 110,151"],
  [HUM, "130,151 137,153 148,170"],
  ["#000", "104,165 112,165"],
  ["#000", "130,166 135,166 139,172"],
  ["#00a000", "71,179 139,179"],
  ["#00a000", "80,190 149,190"],
  ["#1030d0", "71,201 113,201"],
  ["#1030d0", "130,203 160,172"],
  ["#1030d0", "82,212 135,212 160,195"],
  [RED, "95,224 143,224"],
  ["#000", "52,264 130,264 135,262"],
  [RED, "113,335 119,335"],
  [RED, "130,335 138,318"],
  [RED, "105,348 133,348 142,340"],
  [NAVY, "92,368 140,368"],
  [NAVY, "86,410 135,410 141,412"],
  [GROUND, "100,429 133,431 185,447"],
  ["#000", "58,469 135,469 192,455"],
  ["#555", "58,481 135,481 143,482"],
  ["#999", "58,491 130,491 143,508"],
  ["#ddd", "58,501 130,501 143,510"],
  ["#87cefa", "55,509 143,509"],
  ["#87cefa", "55,512 143,512"],
  [ORANGE, "68,527 130,527 175,463"],
  ["#87cefa", "55,555 185,555"],
  ["#87cefa", "55,558 185,558"],
  ["#999", "50,571 193,571"],
  ["#333", "45,582 135,582"],
  ["#333", "75,594 140,594"],
  [FOG, "27,605 216,605 219,600"],
  ["#000", "140,624 148,624 157,612"]
];
var svgNS = "http://www.w3.org/2000/svg";
var svg = document.createElementNS(svgNS, "svg");
svg.setAttribute("width", 820);
svg.setAttribute("height", 660);
leaders.forEach(function (l) {
  var p = document.createElementNS(svgNS, "polyline");
  p.setAttribute("points", l[1]);
  p.setAttribute("fill", "none");
  p.setAttribute("stroke", l[0]);
  p.setAttribute("stroke-width", 1);
  svg.appendChild(p);
});
page.appendChild(svg);
</script>
</body>
</html>
